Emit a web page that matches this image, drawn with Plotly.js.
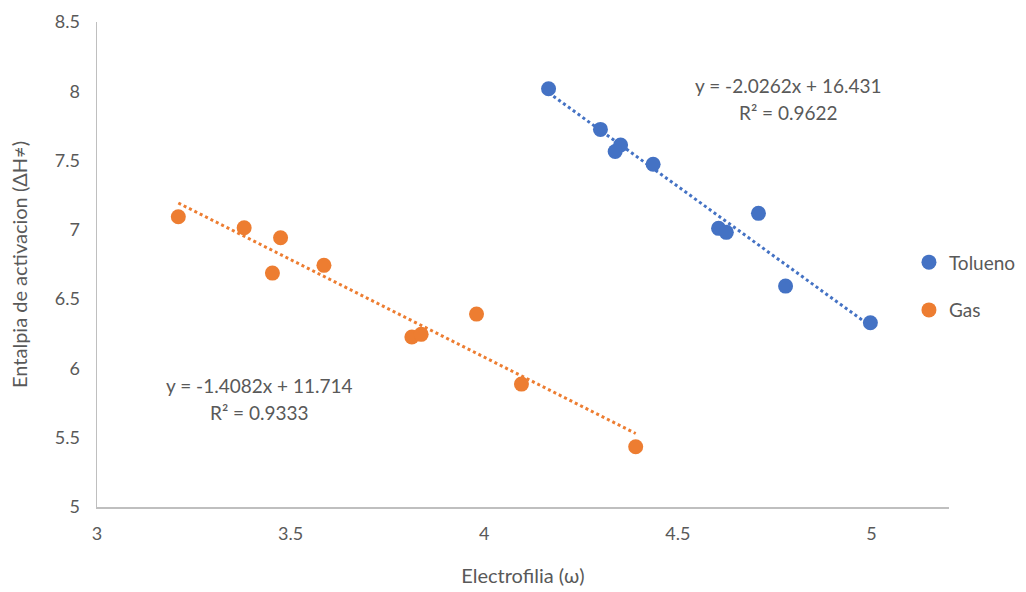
<!DOCTYPE html>
<html>
<head>
<meta charset="utf-8">
<script src="https://cdn.plot.ly/plotly-3.0.1.min.js"></script>
<style>html,body{margin:0;padding:0;background:#fff}#chart{width:1026px;height:592px}</style>
</head>
<body>
<div id="chart"></div>
<script>
// Data
const seriesNames = ["Tolueno", "Gas"];
const toluenoX = [4.166, 4.300, 4.352, 4.338, 4.436, 4.708, 4.605, 4.625, 4.778, 4.997];
const toluenoY = [8.018, 7.725, 7.612, 7.566, 7.473, 7.119, 7.011, 6.982, 6.594, 6.330];
const gasX = [3.210, 3.380, 3.474, 3.453, 3.586, 3.813, 3.837, 3.980, 4.096, 4.391];
const gasY = [7.095, 7.015, 6.943, 6.688, 6.744, 6.227, 6.246, 6.392, 5.887, 5.435];
const slopes = [-2.0262, -1.4082];
const intercepts = [16.431, 11.714];
const r2 = [0.9622, 0.9333];
const xTicks = [3, 3.5, 4, 4.5, 5];
const yTicks = [5, 5.5, 6, 6.5, 7, 7.5, 8, 8.5];

const colors = ["#4472C4", "#ED7D31"];
const textColor = "#595959";
const font = "Lato, 'Open Sans', sans-serif";

function trend(xs, i) {
  const x0 = Math.min(...xs), x1 = Math.max(...xs);
  return {x: [x0, x1], y: [slopes[i] * x0 + intercepts[i], slopes[i] * x1 + intercepts[i]]};
}
const tT = trend(toluenoX, 0), tG = trend(gasX, 1);

const traces = [
  {x: tT.x, y: tT.y, mode: "lines", line: {color: colors[0], width: 3, dash: "dot"}, showlegend: false, hoverinfo: "skip"},
  {x: tG.x, y: tG.y, mode: "lines", line: {color: colors[1], width: 3, dash: "dot"}, showlegend: false, hoverinfo: "skip"},
  {x: toluenoX, y: toluenoY, name: seriesNames[0], mode: "markers", legendgroup: "a",
   marker: {color: colors[0], size: 15}},
  {x: gasX, y: gasY, name: seriesNames[1], mode: "markers", legendgroup: "b",
   marker: {color: colors[1], size: 15}}
];

function eqLine(i) {
  return "y = " + slopes[i].toFixed(4) + "x + " + intercepts[i].toFixed(3);
}
function r2Line(i) {
  return "R² = " + r2[i].toFixed(4);
}

const layout = {
  width: 1026, height: 592,
  margin: {l: 97, r: 77, t: 22, b: 85, autoexpand: false},
  paper_bgcolor: "#fff", plot_bgcolor: "#fff",
  font: {family: font, color: textColor, size: 18},
  showlegend: true,
  legend: {x: 0.953, xanchor: "left", y: 0.455, yanchor: "middle", font: {size: 19, color: textColor},
           tracegroupgap: 20, bgcolor: "rgba(0,0,0,0)", itemwidth: 30},
  xaxis: {range: [3, 5.2], tickvals: xTicks, ticktext: xTicks.map(String), showgrid: false, zeroline: false,
          showline: true, linecolor: "#BFBFBF", linewidth: 1.5, ticks: "", ticklabelstandoff: 10,
          tickfont: {size: 18, color: textColor},
          title: {text: "Electrofilia (ω)", font: {size: 20, color: textColor}, standoff: 26}},
  yaxis: {range: [5, 8.5], tickvals: yTicks, ticktext: yTicks.map(String), showgrid: false, zeroline: false,
          showline: true, linecolor: "#BFBFBF", linewidth: 1.5, ticks: "", ticklabelstandoff: 12,
          tickfont: {size: 18, color: textColor},
          title: {text: "Entalpia de activacion (ΔH≠)", font: {size: 20, color: textColor}, standoff: 22}},
  annotations: [
    {x: 4.786, y: 8.045, xref: "x", yref: "y", text: eqLine(0), showarrow: false, font: {size: 19, color: textColor}},
    {x: 4.786, y: 7.845, xref: "x", yref: "y", text: r2Line(0), showarrow: false, font: {size: 19, color: textColor}},
    {x: 3.42, y: 5.88, xref: "x", yref: "y", text: eqLine(1), showarrow: false, font: {size: 19, color: textColor}},
    {x: 3.42, y: 5.68, xref: "x", yref: "y", text: r2Line(1), showarrow: false, font: {size: 19, color: textColor}}
  ]
};

Plotly.newPlot("chart", traces, layout, {displayModeBar: false, staticPlot: true});
</script>
</body>
</html>
